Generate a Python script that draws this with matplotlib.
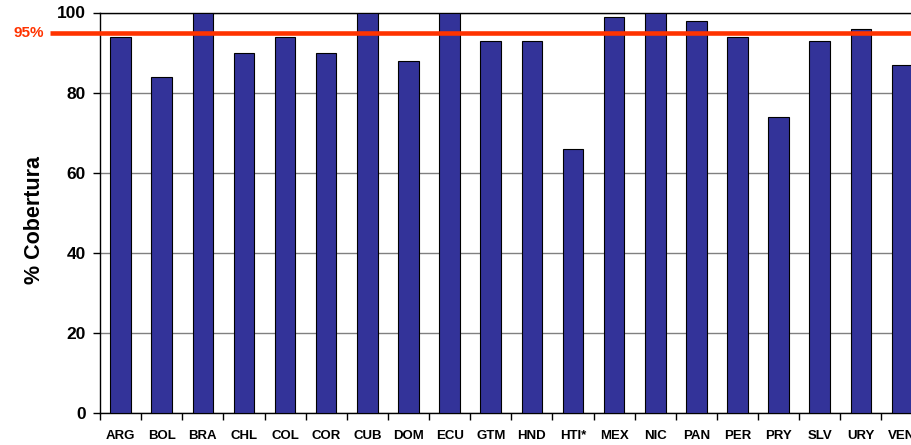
import matplotlib
matplotlib.use("Agg")
import matplotlib.pyplot as plt
import matplotlib.transforms as mtransforms

plt.rcParams['font.family'] = ['Liberation Sans', 'DejaVu Sans']

countries = ["ARG", "BOL", "BRA", "CHL", "COL", "COR", "CUB", "DOM", "ECU", "GTM",
             "HND", "HTI*", "MEX", "NIC", "PAN", "PER", "PRY", "SLV", "URY", "VEN"]
coverage = [94, 84, 100, 90, 94, 90, 100, 88, 100, 93,
            93, 66, 99, 100, 98, 94, 74, 93, 96, 87]
target = 95
target_label = "95%"
y_ticks = [0, 20, 40, 60, 80, 100]
y_label = "% Cobertura"

W, H = 912, 445
fig = plt.figure(figsize=(W / 100, H / 100), dpi=100)
left_px, right_px, top_px, bottom_px = 100, 922.6, 12.5, 413
axw = right_px - left_px
axh = bottom_px - top_px
ax = fig.add_axes([left_px / W, (H - bottom_px) / H, axw / W, axh / H])

x = list(range(len(countries)))
ax.bar(x, coverage, width=0.5, color="#333399", edgecolor="black",
       linewidth=0.8, zorder=3)

ax.set_xlim(-0.5, len(countries) - 0.5)
ax.set_ylim(0, 100)
ax.set_yticks(y_ticks)
ax.set_yticklabels([str(v) for v in y_ticks], fontsize=12.5, fontweight="bold")
ax.yaxis.grid(True, color="#808080", linewidth=1.0, zorder=0)
ax.set_axisbelow(True)

ax.set_xticks([i for i in x])
ax.set_xticklabels(countries, fontsize=9.5, fontweight="bold")
ax.set_xticks([i - 0.5 for i in range(len(countries) + 1)], minor=True)
ax.tick_params(axis="x", which="major", length=0, pad=12)
ax.tick_params(axis="x", which="minor", length=5, width=1, direction="out", color="black")
ax.tick_params(axis="y", length=5, width=1, direction="out", pad=5, color="black")

ax.spines["right"].set_visible(False)
for s in ["left", "bottom", "top"]:
    ax.spines[s].set_color("black")
    ax.spines[s].set_linewidth(1.0)

ax.set_ylabel(y_label, fontsize=15.5, fontweight="bold", va="center")
ax.yaxis.set_label_coords((35 - left_px) / axw, (bottom_px - 220) / axh)

trans = mtransforms.blended_transform_factory(ax.transAxes, ax.transData)
ax.plot([-50 / axw, 1.0], [target, target], color="#FF3300", linewidth=3.3,
        transform=trans, clip_on=False, zorder=5, solid_capstyle="butt")
ax.text(-56 / axw, target, target_label, transform=trans, color="#FF3300",
        fontsize=11, fontweight="bold", ha="right", va="center")

fig.savefig("out.png", dpi=100)
